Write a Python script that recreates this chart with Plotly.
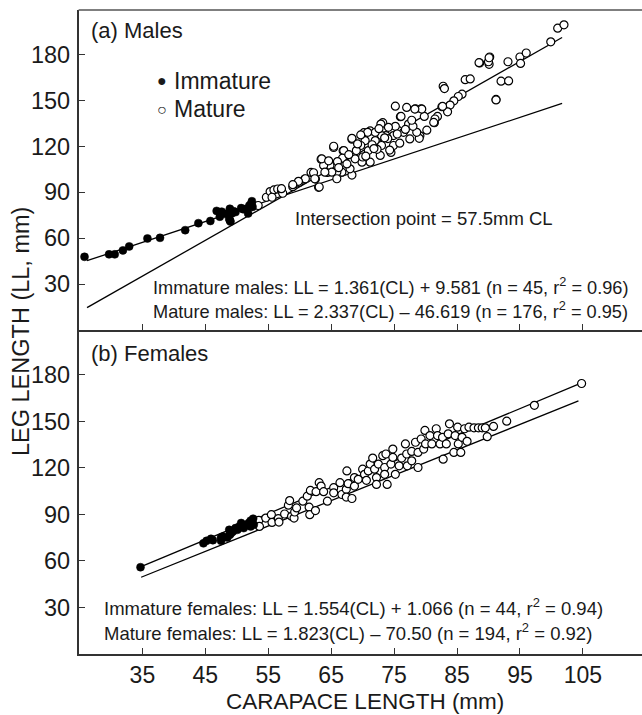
import plotly.graph_objects as go

# ---------------- data ----------------
male_imm_cl = [25.8, 29.7, 30.6, 31.9, 32.9, 35.8, 37.8, 41.8, 43.9, 45.8, 46.8, 47.6, 47.3, 48.1,
               48.9, 49.2, 48.9, 49.5, 49.8, 50.7, 51.0, 51.4, 51.8, 51.6, 52.0, 52.4, 52.5, 52.3,
               48.8, 49.0]
male_imm_ll = [47.8, 49.4, 49.4, 52.0, 54.6, 59.8, 60.2, 65.2, 69.8, 71.2, 77.8, 77.3, 74.0, 75.9,
               79.2, 76.1, 71.5, 77.6, 77.0, 79.6, 78.9, 79.1, 76.1, 78.7, 81.3, 84.1, 80.4, 82.5,
               72.6, 70.8]

male_mat_cl = [53.4, 54.7, 55.3, 55.9, 56.5, 57.1, 55.6, 57.3, 58.9, 59.9, 60.8, 61.8, 62.5, 63.0,
               63.4, 65.4, 64.4, 65.7, 66.9, 68.3, 68.3, 70.2, 71.2, 73.2, 75.2, 76.0, 78.4, 79.3,
               79.1, 81.4, 82.8, 82.6, 86.3, 87.1, 88.6, 90.2, 91.2, 93.1, 95.0, 96.0, 99.9, 101.0,
               102.0, 90.1, 90.0, 88.5, 92.0, 93.2, 91.2, 85.8, 85.2, 84.5, 83.9, 83.5, 82.7, 83.0,
               81.9, 81.5, 81.3, 79.8, 79.4, 78.3, 79.0, 78.6, 77.5, 77.0, 76.1, 77.3, 75.7, 75.2,
               76.5, 74.9, 74.1, 73.7, 72.9, 73.0, 72.0, 72.0, 70.8, 70.4, 69.7, 69.7, 68.3, 69.0,
               70.9, 73.0, 74.9, 72.8, 71.2, 69.9, 68.8, 67.0, 66.8, 65.4, 68.0, 66.7, 65.9, 64.8,
               65.1, 63.8, 63.5, 64.0, 65.9, 63.1, 62.2, 62.4, 60.9, 59.8, 58.9, 57.1, 95.1, 90.1,
               71.5, 74.0, 75.5, 76.8, 78.0, 80.2, 72.3, 70.0, 67.5, 66.0, 74.5, 77.8, 67.8, 69.2,
               71.8, 73.5, 75.9, 64.6, 66.2, 70.5, 72.6, 74.3]
male_mat_ll = [81.3, 86.7, 90.4, 91.5, 92.1, 91.0, 86.7, 89.3, 93.6, 96.4, 98.6, 102.9, 98.6, 93.2,
               111.6, 119.2, 102.9, 107.3, 117.0, 124.6, 101.2, 128.9, 130.0, 135.4, 146.2, 139.3,
               144.5, 144.5, 126.8, 135.4, 159.2, 145.8, 163.5, 164.0, 174.4, 178.3, 150.6, 175.2,
               178.3, 180.9, 188.2, 197.1, 199.3, 173.5, 175.2, 174.6, 162.5, 162.7, 150.3, 154.0,
               152.5, 149.7, 146.9, 142.5, 146.0, 157.7, 139.5, 137.8, 135.6, 139.5, 144.3, 144.3,
               125.2, 129.1, 124.8, 145.4, 139.5, 134.5, 130.2, 133.0, 129.1, 127.0, 132.4, 127.0,
               134.5, 127.0, 129.1, 123.7, 129.1, 123.7, 127.4, 120.5, 125.2, 117.2, 117.2, 120.5,
               120.5, 114.0, 109.6, 109.6, 111.8, 117.2, 112.2, 120.0, 105.3, 103.1, 103.1, 107.5,
               103.1, 107.5, 111.8, 103.1, 98.8, 93.4, 102.7, 98.8, 98.8, 97.1, 94.9, 92.3, 174.1,
               177.8, 121.0, 125.0, 128.0, 131.0, 133.0, 130.5, 118.0, 113.0, 108.5, 110.0, 116.0,
               137.0, 114.5, 121.5, 118.5, 125.5, 122.0, 110.5, 106.0, 113.5, 131.5, 117.5]

fem_imm_cl = [34.7, 44.7, 45.2, 45.9, 46.2, 47.5, 47.5, 47.8, 48.8, 48.9, 49.4, 49.8, 50.4, 50.7,
              51.1, 51.4, 51.9, 52.2, 52.6, 52.7, 52.2, 50.1, 49.1, 48.5]
fem_imm_ll = [56.0, 71.4, 73.0, 74.3, 73.4, 75.1, 73.0, 75.8, 80.1, 76.9, 79.0, 81.2, 82.3, 84.5,
              81.2, 82.9, 84.5, 86.0, 87.3, 83.4, 82.3, 80.1, 78.0, 75.1]

fem_mat_cl = [53.5, 53.6, 54.6, 55.5, 55.6, 56.6, 56.7, 57.6, 58.2, 58.4, 58.7, 59.1, 59.2, 59.5,
              60.5, 61.5, 61.6, 61.2, 61.7, 62.6, 62.5, 63.1, 63.4, 63.8, 64.4, 65.4, 65.4, 66.4,
              66.7, 67.4, 67.5, 67.7, 67.4, 68.3, 68.7, 68.7, 69.3, 70.0, 70.3, 70.6, 70.9, 71.2,
              71.6, 71.9, 72.2, 72.2, 72.5, 73.2, 73.5, 73.7, 73.5, 73.9, 74.5, 74.8, 74.8, 75.2,
              75.8, 76.2, 76.8, 77.0, 77.1, 77.8, 77.8, 78.4, 78.8, 78.8, 79.3, 79.7, 79.9, 80.0,
              80.7, 81.0, 81.7, 81.9, 82.3, 82.8, 82.7, 83.3, 83.6, 83.8, 84.5, 84.7, 85.1, 85.2,
              85.6, 85.8, 86.2, 86.6, 86.9, 87.7, 88.4, 89.0, 89.5, 89.8, 90.8, 92.9, 97.3, 104.8]
fem_mat_ll = [86.2, 82.3, 87.7, 89.9, 84.9, 87.3, 85.1, 90.3, 96.0, 99.0, 88.8, 87.7, 91.6, 94.2,
              98.6, 94.7, 89.9, 101.8, 105.5, 104.7, 92.5, 110.5, 108.3, 104.7, 98.6, 107.3, 104.0,
              110.5, 102.9, 106.2, 118.1, 109.9, 101.2, 100.3, 108.3, 113.8, 112.7, 119.2, 115.9,
              112.0, 118.1, 122.5, 126.4, 119.2, 113.8, 109.4, 122.5, 127.9, 120.3, 129.0, 115.9,
              109.4, 122.5, 132.2, 126.8, 115.9, 121.4, 126.4, 135.5, 129.0, 121.4, 130.7, 124.6,
              136.6, 130.0, 120.3, 138.7, 132.2, 144.2, 135.5, 140.9, 135.5, 145.3, 140.9, 135.5,
              125.7, 139.8, 135.5, 142.0, 148.5, 130.0, 140.9, 146.3, 135.5, 130.0, 139.8, 145.3,
              137.2, 146.3, 145.9, 145.9, 145.9, 145.9, 140.2, 146.8, 150.2, 160.4, 174.5]

# regression lines
male_line_cl = [26.2, 101.7]
male_imm_slope, male_imm_int = 1.361, 9.581
male_mat_slope, male_mat_int = 2.337, -46.619
fem_upper_cl = [34.6, 104.7]
fem_upper_ll = [56.0, 174.7]
fem_lower_cl = [34.8, 104.3]
fem_lower_ll = [49.5, 163.3]

x_ticks = [35, 45, 55, 65, 75, 85, 95, 105]
y_ticks = [30, 60, 90, 120, 150, 180]

eq_male_imm = "Immature males: LL = 1.361(CL) + 9.581 (n = 45, r<sup>2</sup> = 0.96)"
eq_male_mat = "Mature males: LL = 2.337(CL) – 46.619 (n = 176, r<sup>2</sup> = 0.95)"
eq_fem_imm = "Immature females: LL = 1.554(CL) + 1.066 (n = 44, r<sup>2</sup> = 0.94)"
eq_fem_mat = "Mature females: LL = 1.823(CL) – 70.50 (n = 194, r<sup>2</sup> = 0.92)"

# ---------------- layout helpers ----------------
W, H = 642, 715
FONT = "Liberation Sans, Arial, Helvetica, sans-serif"


def px(x):
    return x / W


def py(y):
    return 1 - y / H


left_px = 78.6
top_px, mid_px, bot_px = 10, 330, 654

fig = go.Figure()

line_style = dict(color="black", width=1.3)
open_marker = dict(symbol="circle", size=8, color="white", line=dict(color="black", width=1.2))
fill_marker = dict(symbol="circle", size=8, color="black", line=dict(color="black", width=0.5))

# top panel (males) -> x2 / y2
fig.add_trace(go.Scatter(x=male_line_cl, y=[male_imm_slope * v + male_imm_int for v in male_line_cl],
                         mode="lines", line=line_style, xaxis="x2", yaxis="y2", showlegend=False))
fig.add_trace(go.Scatter(x=male_line_cl, y=[male_mat_slope * v + male_mat_int for v in male_line_cl],
                         mode="lines", line=line_style, xaxis="x2", yaxis="y2", showlegend=False))
fig.add_trace(go.Scatter(x=male_mat_cl, y=male_mat_ll, mode="markers", marker=open_marker,
                         xaxis="x2", yaxis="y2", showlegend=False))
fig.add_trace(go.Scatter(x=male_imm_cl, y=male_imm_ll, mode="markers", marker=fill_marker,
                         xaxis="x2", yaxis="y2", showlegend=False))

# bottom panel (females) -> x / y
fig.add_trace(go.Scatter(x=fem_upper_cl, y=fem_upper_ll, mode="lines", line=line_style, showlegend=False))
fig.add_trace(go.Scatter(x=fem_lower_cl, y=fem_lower_ll, mode="lines", line=line_style, showlegend=False))
fig.add_trace(go.Scatter(x=fem_mat_cl, y=fem_mat_ll, mode="markers", marker=open_marker, showlegend=False))
fig.add_trace(go.Scatter(x=fem_imm_cl, y=fem_imm_ll, mode="markers", marker=fill_marker, showlegend=False))

xr = [24.86, 114.4]
yr = [0, 209]
ytickfont = dict(family=FONT, size=23.5, color="#1a1a1a")
xtickfont = dict(family=FONT, size=23, color="#1a1a1a")

common_x = dict(range=xr, tickvals=x_ticks, ticks="inside", ticklen=6, tickwidth=1.2,
                tickcolor="#333", showgrid=False, zeroline=False, showline=True,
                linecolor="#333", linewidth=1.6, domain=[px(left_px), 1])
common_y = dict(range=yr, tickvals=y_ticks, ticks="inside", ticklen=7, tickwidth=1.2,
                tickcolor="#333", showgrid=False, zeroline=False, showline=True,
                linecolor="#333", linewidth=1.6, tickfont=ytickfont, ticklabelstandoff=2)

fig.update_layout(
    width=W, height=H, margin=dict(l=0, r=0, t=0, b=0),
    paper_bgcolor="white", plot_bgcolor="white", showlegend=False,
    font=dict(family=FONT, color="#1a1a1a"),
    xaxis=dict(**common_x, anchor="y", tickfont=xtickfont, ticklabelstandoff=0),
    yaxis=dict(**common_y, anchor="x", domain=[py(bot_px), py(mid_px)]),
    xaxis2=dict(**common_x, anchor="y2", matches="x", showticklabels=False),
    yaxis2=dict(**common_y, anchor="x2", domain=[py(mid_px), py(top_px)]),
)

# top border of the figure frame
fig.add_shape(type="line", xref="paper", yref="paper", x0=px(left_px), x1=1,
              y0=py(top_px), y1=py(top_px), line=dict(color="#555", width=1.6))


def txt(text, x, y, size, xanchor="left", yanchor="middle", angle=0):
    fig.add_annotation(text=text, x=px(x), y=py(y), xref="paper", yref="paper",
                       xanchor=xanchor, yanchor=yanchor, showarrow=False, textangle=angle,
                       font=dict(family=FONT, size=size, color="#1a1a1a"))


txt("(a) Males", 89, 30, 22)
txt("(b) Females", 89, 353, 22)
txt("●", 162, 81, 16, xanchor="center")
txt("○", 162, 109, 16, xanchor="center")
txt("Immature", 172, 81, 23)
txt("Mature", 172, 109, 23)
txt("Intersection point = 57.5mm CL", 293, 218, 18.5)
txt(eq_male_imm, 151, 286, 18.2)
txt(eq_male_mat, 151, 310, 18.2)
txt(eq_fem_imm, 102, 607, 18.5)
txt(eq_fem_mat, 102, 632, 18.5)
txt("CARAPACE LENGTH (mm)", 365, 701, 22.5, xanchor="center")
txt("LEG LENGTH (LL, mm)", 21, 332, 23.5, xanchor="center", angle=-90)

fig.write_html("out.html", config={"displayModeBar": False},
               post_script="document.body.style.margin='0';document.body.style.overflow='hidden';")
